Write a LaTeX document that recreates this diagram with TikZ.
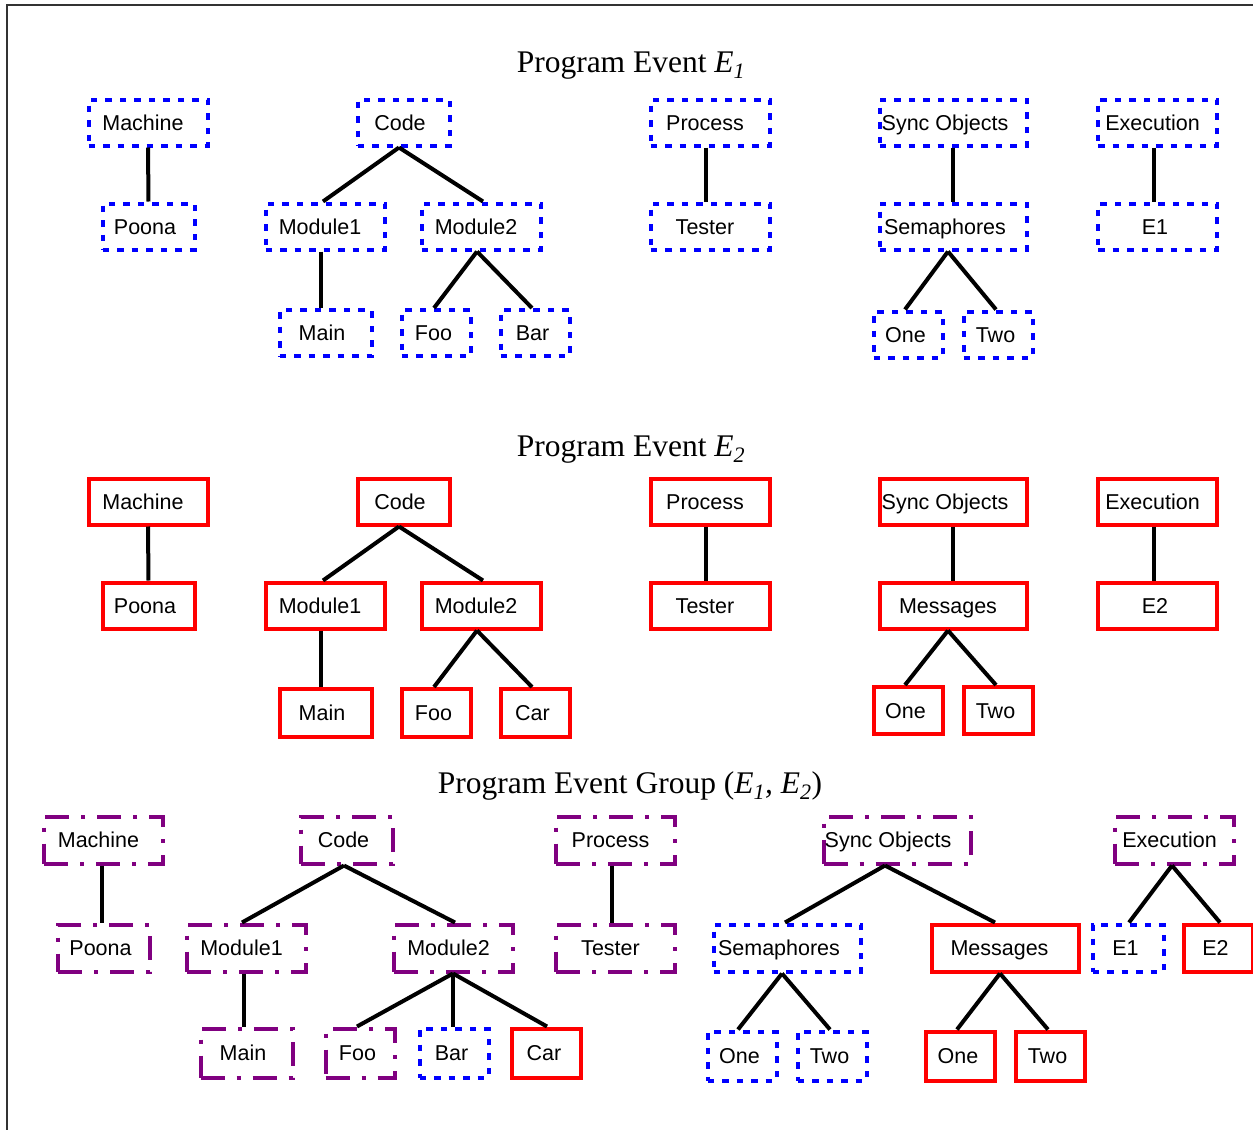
\documentclass[tikz,border=0pt]{standalone}
\usepackage{fontspec}
\setmainfont{Liberation Serif}
\setsansfont{Liberation Sans}
\definecolor{grpurple}{RGB}{128,0,128}
\definecolor{framegray}{RGB}{51,51,51}
\newcommand\boxfont{\sffamily\fontsize{21.5bp}{24bp}\selectfont}
\newcommand\titlefont{\rmfamily\fontsize{31.5bp}{36bp}\selectfont}
\newcommand\Esub[1]{\textit{E}\textsubscript{\textit{#1}}}
\def\txtpad{8bp}
\tikzset{
  evbox/.style={rectangle, inner sep=0pt, font=\boxfont, text height=15.4bp,
    text depth=0bp, minimum height=46bp, execute at end node={\hspace*{\txtpad}}},
  pad/.code={\def\txtpad{#1}},
  wd/.style={minimum width=119bp, pad=10bp},
  md/.style={minimum width=92bp, pad=7bp},
  sm/.style={minimum width=69bp, pad=5bp},
  lg/.style={minimum width=147bp, pad=16bp},
  evone/.style={evbox, draw=blue, line width=4bp, dash pattern=on 6.5bp off 8bp},
  evtwo/.style={evbox, draw=red, line width=4bp},
  evgrp/.style={evbox, draw=grpurple, line width=4bp, minimum height=47bp,
    dash pattern=on 24bp off 12bp on 4bp off 12bp},
  link/.style={draw=black, line width=4bp},
  title/.style={font=\titlefont, anchor=base, inner sep=0pt},
}
% connector from the bottom of one box to the top of another, with x offsets
\newcommand\conn[4]{\draw[link] ([xshift=#2bp]#1.south) -- ([xshift=#4bp]#3.north);}

\begin{document}
\begin{tikzpicture}[x=1bp, y=-1bp]
\useasboundingbox (0,0) rectangle (1253,1130);
\clip (0,0) rectangle (1253,1130);
\draw[framegray, line width=2.5bp] (7,5) rectangle (1300,1200);

% ---------- Program Event E1 ----------
\node[title] (t1) at (631,72) {Program Event \Esub{1}};
\node[evone, wd] (amach) at (148,122.5)   {Machine};
\node[evone, md] (apoona) at (148.5,226.5) {Poona};
\node[evone, md] (acode) at (403.5,122.5) {Code};
\node[evone, wd] (amod1) at (325,226.5)   {Module1};
\node[evone, wd] (amod2) at (481,226.5)   {Module2};
\node[evone, md] (amain) at (325.5,333)   {Main};
\node[evone, sm] (afoo) at (436,333)      {Foo};
\node[evone, sm] (abar) at (535,333)      {Bar};
\node[evone, wd] (aproc) at (710,122.5)   {Process};
\node[evone, wd] (atest) at (710,226.5)   {Tester};
\node[evone, lg] (async) at (953,122.5)   {Sync Objects};
\node[evone, lg] (asema) at (953,226.5)   {Semaphores};
\node[evone, sm] (aone) at (908,334.5)    {One};
\node[evone, sm] (atwo) at (998,334.5)    {Two};
\node[evone, wd] (aexec) at (1157.5,122.5) {Execution};
\node[evone, wd, pad=5bp] (ae1) at (1157.5,226.5) {E1};

\conn{amach}{0}{apoona}{0}
\conn{acode}{-4.5}{amod1}{-2}
\conn{acode}{-4.5}{amod2}{2}
\conn{amod1}{-4}{amain}{-4.5}
\conn{amod2}{-4}{afoo}{-2}
\conn{amod2}{-4}{abar}{-3}
\conn{aproc}{-4}{atest}{-4}
\conn{async}{0}{asema}{0}
\conn{asema}{-5}{aone}{-3}
\conn{asema}{-5}{atwo}{-2}
\conn{aexec}{-3.5}{ae1}{-3.5}

% ---------- Program Event E2 ----------
\node[title] (t2) at (631,456) {Program Event \Esub{2}};
\node[evtwo, wd] (bmach) at (148,501.5)   {Machine};
\node[evtwo, md] (bpoona) at (148.5,605.5) {Poona};
\node[evtwo, md] (bcode) at (403.5,501.5) {Code};
\node[evtwo, wd] (bmod1) at (325,605.5)   {Module1};
\node[evtwo, wd] (bmod2) at (481,605.5)   {Module2};
\node[evtwo, md, minimum height=48bp] (bmain) at (325.5,713) {Main};
\node[evtwo, sm, minimum height=48bp] (bfoo) at (436,713)    {Foo};
\node[evtwo, sm, minimum height=48bp] (bcar) at (535,713)    {Car};
\node[evtwo, wd] (bproc) at (710,501.5)   {Process};
\node[evtwo, wd] (btest) at (710,605.5)   {Tester};
\node[evtwo, lg] (bsync) at (953,501.5)   {Sync Objects};
\node[evtwo, lg, pad=10bp] (bmess) at (953,605.5) {Messages};
\node[evtwo, sm, minimum height=47bp] (bone) at (908,710.5)  {One};
\node[evtwo, sm, minimum height=47bp] (btwo) at (998,710.5)  {Two};
\node[evtwo, wd] (bexec) at (1157.5,501.5) {Execution};
\node[evtwo, wd, pad=5bp] (be2) at (1157.5,605.5) {E2};

\conn{bmach}{0}{bpoona}{0}
\conn{bcode}{-4.5}{bmod1}{-2}
\conn{bcode}{-4.5}{bmod2}{2}
\conn{bmod1}{-4}{bmain}{-4.5}
\conn{bmod2}{-4}{bfoo}{-2}
\conn{bmod2}{-4}{bcar}{-3}
\conn{bproc}{-4}{btest}{-4}
\conn{bsync}{0}{bmess}{0}
\conn{bmess}{-5}{bone}{-3}
\conn{bmess}{-5}{btwo}{-2}
\conn{bexec}{-3.5}{be2}{-3.5}

% ---------- Program Event Group (E1, E2) ----------
\node[title] (t3) at (630,793) {Program Event Group (\Esub{1}\textit{,} \Esub{2})};
\node[evgrp, wd] (cmach) at (103.5,840)   {Machine};
\node[evgrp, md] (cpoona) at (104,948)    {Poona};
\node[evgrp, md] (ccode) at (347,840)     {Code};
\node[evgrp, wd] (cmod1) at (246.5,948)   {Module1};
\node[evgrp, wd] (cmod2) at (453.5,948)   {Module2};
\node[evgrp, md, minimum height=49bp] (cmain) at (246.5,1053) {Main};
\node[evgrp, sm, minimum height=49bp] (cfoo) at (360,1053)    {Foo};
\node[evone, sm, minimum height=49bp] (cbar) at (454,1053)    {Bar};
\node[evtwo, sm, minimum height=49bp] (ccar) at (546.5,1053)  {Car};
\node[evgrp, wd] (cproc) at (615.5,840)   {Process};
\node[evgrp, wd] (ctest) at (615.5,948)   {Tester};
\node[evgrp, lg, pad=18bp] (csync) at (897,840) {Sync Objects};
\node[evone, lg, minimum height=47bp] (csema) at (787,948) {Semaphores};
\node[evtwo, lg, minimum height=47bp, pad=12bp] (cmess) at (1005.5,948) {Messages};
\node[evone, sm, minimum height=49bp] (conea) at (742,1056)   {One};
\node[evone, sm, minimum height=49bp] (ctwoa) at (832,1056)   {Two};
\node[evtwo, sm, minimum height=49bp] (coneb) at (960.5,1056) {One};
\node[evtwo, sm, minimum height=49bp] (ctwob) at (1050,1056)  {Two};
\node[evgrp, wd] (cexec) at (1174.5,840)  {Execution};
\node[evone, sm, minimum width=71bp, minimum height=47bp] (ce1) at (1128,948) {E1};
\node[evtwo, sm, minimum height=47bp] (ce2) at (1218,948) {E2};

\conn{cmach}{-1.5}{cpoona}{-2}
\conn{ccode}{-3}{cmod1}{-4.5}
\conn{ccode}{-3}{cmod2}{1.5}
\conn{cmod1}{-2.5}{cmain}{-2.5}
\conn{cmod2}{-0.5}{cfoo}{-3}
\conn{cmod2}{-0.5}{cbar}{-1}
\conn{cmod2}{-0.5}{ccar}{0.5}
\conn{cproc}{-3.5}{ctest}{-3.5}
\conn{csync}{-12}{csema}{-2}
\conn{csync}{-12}{cmess}{-10.5}
\conn{csema}{-5}{conea}{-4}
\conn{csema}{-5}{ctwoa}{-2}
\conn{cmess}{-5.5}{coneb}{-3.5}
\conn{cmess}{-5.5}{ctwob}{-2}
\conn{cexec}{-2.5}{ce1}{1}
\conn{cexec}{-2.5}{ce2}{2}
\end{tikzpicture}
\end{document}
